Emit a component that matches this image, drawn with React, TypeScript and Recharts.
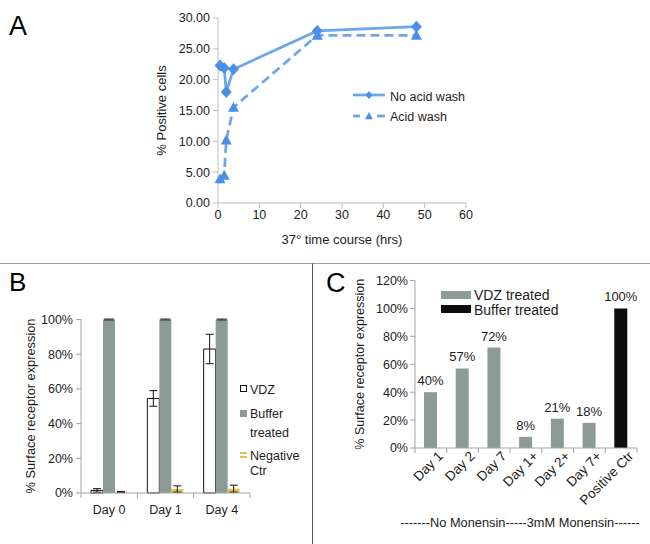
import React from 'react';
import { LineChart, Line, BarChart, Bar, XAxis, YAxis, ErrorBar, LabelList } from 'recharts';

const FONT = '"Liberation Sans", Arial, Helvetica, sans-serif';
const INK = '#1c1c1c';
const LINE_BLUE = '#6CA7EA';
const MARK_BLUE = '#4A90E6';
const AXIS_A = '#BDBDBD';
const AXIS_BC = '#A3A3A3';
const GRAY_BAR = '#8D9B98';
const GOLD = '#E0C255';

// panel A: % positive cells over the 37° time course
const hours = [0.5, 1.5, 2, 3.75, 24, 48];
const noAcidWash = [22.3, 21.9, 18.0, 21.7, 27.9, 28.6];
const acidWash = [3.9, 4.5, 10.2, 15.5, 27.2, 27.2];
const hourTicks = [0, 10, 20, 30, 40, 50, 60];
const positiveTicks = [0, 5, 10, 15, 20, 25, 30];

// panel B: surface receptor expression, mean and error
const daysB = ['Day 0', 'Day 1', 'Day 4'];
const vdz = [1.5, 54.5, 83];
const vdzErr = [1, 4.5, 8.5];
const buffer = [100, 100, 100];
const bufferErr = [0.3, 0.3, 0.3];
const negative = [0.6, 2.3, 2.5];
const negativeErr = [0.3, 1.8, 2];
const pctTicksB = [0, 20, 40, 60, 80, 100];

// panel C: with / without monensin
const daysC = ['Day 1', 'Day 2', 'Day 7', 'Day 1+', 'Day 2+', 'Day 7+', 'Positive Ctr'];
const vdzTreated = [40, 57, 72, 8, 21, 18, null];
const bufferTreated = [null, null, null, null, null, null, 100];
const pctTicksC = [0, 20, 40, 60, 80, 100, 120];

const dataA = hours.map((h, i) => ({ h, noAcid: noAcidWash[i], acid: acidWash[i] }));
const dataB = daysB.map((day, i) => ({
  day,
  vdz: vdz[i],
  vdzErr: vdzErr[i],
  buffer: buffer[i],
  bufferErr: bufferErr[i],
  negative: negative[i],
  negativeErr: negativeErr[i],
}));
const dataC = daysC.map((day, i) => ({ day, vdz: vdzTreated[i], buffer: bufferTreated[i] }));

const diamondPath = (cx: number, cy: number, w: number, h: number) =>
  `M${cx},${cy - h}L${cx + w},${cy}L${cx},${cy + h}L${cx - w},${cy}Z`;
const trianglePath = (cx: number, cy: number, s: number) =>
  `M${cx},${cy - s}L${cx + s},${cy + s * 0.8}L${cx - s},${cy + s * 0.8}Z`;

const DiamondDot = (p: any) =>
  p.cx == null ? <g key={`d${p.index}`} /> : <path key={`d${p.index}`} d={diamondPath(p.cx, p.cy, 5.5, 6)} fill={MARK_BLUE} />;
const TriangleDot = (p: any) =>
  p.cx == null ? <g key={`t${p.index}`} /> : <path key={`t${p.index}`} d={trianglePath(p.cx, p.cy, 5.5)} fill={MARK_BLUE} />;

// Excel-style category axis: tick marks sit between categories
const BandTick = (props: any) => {
  const { x, y, payload, index, band, count, rotate } = props;
  const tickMark = (tx: number) => <line x1={tx} x2={tx} y1={y} y2={y + 5} stroke={AXIS_BC} />;
  return (
    <g>
      {tickMark(x - band / 2)}
      {index === count - 1 && tickMark(x + band / 2)}
      {rotate ? (
        <text
          x={x + 13}
          y={y + 9}
          textAnchor="end"
          fontSize={13.5}
          fill={INK}
          transform={`rotate(-45, ${x + 13}, ${y + 9})`}
        >
          {payload.value}
        </text>
      ) : (
        <text x={x} y={y + 21} textAnchor="middle" fontSize={12.5} fill={INK}>
          {payload.value}
        </text>
      )}
    </g>
  );
};

function PanelA() {
  return (
    <LineChart width={650} height={262} data={dataA} margin={{ top: 18, right: 184, left: 158, bottom: 0 }}>
      <XAxis
        dataKey="h"
        type="number"
        domain={[0, 60]}
        ticks={hourTicks}
        height={59}
        stroke={AXIS_A}
        tickSize={5}
        tick={{ fill: INK, fontSize: 12.5 }}
        label={{ value: '37° time course (hrs)', position: 'insideBottom', offset: 18, fill: INK, fontSize: 13 }}
      />
      <YAxis
        type="number"
        domain={[0, 30]}
        ticks={positiveTicks}
        width={60}
        stroke={AXIS_A}
        tickSize={5}
        tickMargin={3}
        tick={{ fill: INK, fontSize: 12.5 }}
        tickFormatter={(v: number) => v.toFixed(2)}
        label={{ value: '% Positive cells', angle: -90, position: 'insideLeft', offset: 3, fill: INK, fontSize: 13, style: { textAnchor: 'middle' } }}
      />
      <Line
        type="linear"
        dataKey="noAcid"
        name="No acid wash"
        stroke={LINE_BLUE}
        strokeWidth={2.75}
        dot={DiamondDot}
        activeDot={false}
        isAnimationActive={false}
      />
      <Line
        type="linear"
        dataKey="acid"
        name="Acid wash"
        stroke={LINE_BLUE}
        strokeWidth={2.75}
        strokeDasharray="9 5"
        dot={TriangleDot}
        activeDot={false}
        isAnimationActive={false}
      />
    </LineChart>
  );
}

function PanelB() {
  const band = 169 / daysB.length;
  return (
    <BarChart width={312} height={281} data={dataB} margin={{ top: 56, right: 62, left: 21, bottom: 0 }} barSize={12} barGap={0}>
      <XAxis
        dataKey="day"
        height={51}
        stroke={AXIS_BC}
        tickLine={false}
        tickSize={0}
        tickMargin={0}
        interval={0}
        tick={(p: any) => <BandTick {...p} band={band} count={daysB.length} />}
      />
      <YAxis
        domain={[0, 100]}
        ticks={pctTicksB}
        width={60}
        stroke={AXIS_BC}
        tickSize={5}
        tickMargin={3}
        tick={{ fill: INK, fontSize: 12.5 }}
        tickFormatter={(v: number) => `${v}%`}
        label={{ value: '% Surface receptor expression', angle: -90, position: 'insideLeft', offset: 9, fill: INK, fontSize: 12.8, style: { textAnchor: 'middle' } }}
      />
      <Bar dataKey="vdz" name="VDZ" fill="#ffffff" stroke="#111" strokeWidth={1} isAnimationActive={false}>
        <ErrorBar dataKey="vdzErr" width={4} stroke="#111" strokeWidth={1} />
      </Bar>
      <Bar dataKey="buffer" name="Buffer treated" fill={GRAY_BAR} isAnimationActive={false}>
        <ErrorBar dataKey="bufferErr" width={5} stroke="#333" strokeWidth={1} />
      </Bar>
      <Bar dataKey="negative" name="Negative Ctr" fill={GOLD} isAnimationActive={false}>
        <ErrorBar dataKey="negativeErr" width={4} stroke="#111" strokeWidth={1} />
      </Bar>
    </BarChart>
  );
}

const pctLabel = (v: any) => (v == null ? '' : `${v}%`);

function PanelC() {
  const band = 222 / daysC.length;
  return (
    <BarChart width={337} height={281} data={dataC} margin={{ top: 17.5, right: 13, left: 40, bottom: 0 }} barSize={13}>
      <XAxis
        dataKey="day"
        height={96}
        stroke={AXIS_BC}
        tickLine={false}
        tickSize={0}
        tickMargin={0}
        interval={0}
        tick={(p: any) => <BandTick {...p} band={band} count={daysC.length} rotate />}
      />
      <YAxis
        domain={[0, 120]}
        ticks={pctTicksC}
        width={62}
        stroke={AXIS_BC}
        tickSize={5}
        tickMargin={2}
        tick={{ fill: INK, fontSize: 12.5 }}
        tickFormatter={(v: number) => `${v}%`}
        label={{ value: '% Surface receptor expression', angle: -90, position: 'insideLeft', offset: 7, fill: INK, fontSize: 12.5, style: { textAnchor: 'middle' } }}
      />
      <Bar dataKey="vdz" name="VDZ treated" stackId="c" fill={GRAY_BAR} isAnimationActive={false}>
        <LabelList dataKey="vdz" position="top" offset={7} fontSize={13} fill={INK} formatter={pctLabel} />
      </Bar>
      <Bar dataKey="buffer" name="Buffer treated" stackId="c" fill="#0d0d0d" isAnimationActive={false}>
        <LabelList dataKey="buffer" position="top" offset={7} fontSize={13} fill={INK} formatter={pctLabel} />
      </Bar>
    </BarChart>
  );
}

function Overlay() {
  return (
    <svg width={650} height={544} style={{ position: 'absolute', left: 0, top: 0, pointerEvents: 'none' }} fontFamily={FONT}>
      <line x1={0} y1={263.5} x2={650} y2={263.5} stroke="#9E9E9E" />
      <line x1={312.5} y1={263.5} x2={312.5} y2={544} stroke="#555" />

      <text x={9} y={35} fontSize={27} fill="#000">A</text>
      <text x={9} y={291} fontSize={26} fill="#000">B</text>
      <text x={326} y={292} fontSize={27} fill="#000">C</text>

      {/* legend A */}
      <line x1={353} x2={385} y1={95} y2={95} stroke={LINE_BLUE} strokeWidth={2.75} />
      <path d={diamondPath(369, 95, 3.5, 4)} fill={MARK_BLUE} />
      <text x={390} y={100.5} fontSize={12.5} fill={INK}>No acid wash</text>
      <line x1={353} x2={360} y1={116} y2={116} stroke={LINE_BLUE} strokeWidth={2.75} />
      <line x1={377} x2={385} y1={116} y2={116} stroke={LINE_BLUE} strokeWidth={2.75} />
      <path d={trianglePath(369, 116, 4)} fill={MARK_BLUE} />
      <text x={390} y={120.5} fontSize={12.5} fill={INK}>Acid wash</text>

      {/* legend B */}
      <rect x={240.5} y={385.5} width={6} height={6} fill="#fff" stroke="#111" />
      <text x={250} y={393.5} fontSize={12.5} fill={INK}>VDZ</text>
      <rect x={240} y={410} width={7} height={7} fill={GRAY_BAR} />
      <text x={250} y={417.5} fontSize={12.5} fill={INK}>Buffer</text>
      <text x={250} y={437} fontSize={12.5} fill={INK}>treated</text>
      <rect x={240} y={452} width={7} height={2} fill={GOLD} />
      <rect x={240} y={456} width={7} height={2} fill={GOLD} />
      <text x={250} y={460} fontSize={12.5} fill={INK}>Negative</text>
      <text x={250} y={475} fontSize={12.5} fill={INK}>Ctr</text>

      {/* legend C */}
      <rect x={441} y={291} width={30} height={8} fill={GRAY_BAR} />
      <text x={474} y={300} fontSize={14} fill={INK}>VDZ treated</text>
      <rect x={441} y={305} width={30} height={8} fill="#0d0d0d" />
      <text x={474} y={315} fontSize={14} fill={INK}>Buffer treated</text>

      <text x={520} y={527} textAnchor="middle" fontSize={12.8} fill={INK}>
        -------No Monensin-----3mM Monensin------
      </text>
    </svg>
  );
}

export default function App() {
  return (
    <div style={{ position: 'absolute', left: 0, top: 0, width: 650, height: 544, background: '#fff', fontFamily: FONT, overflow: 'hidden' }}>
      <div style={{ position: 'absolute', left: 0, top: 0 }}>
        <PanelA />
      </div>
      <div style={{ position: 'absolute', left: 0, top: 263 }}>
        <PanelB />
      </div>
      <div style={{ position: 'absolute', left: 313, top: 263 }}>
        <PanelC />
      </div>
      <Overlay />
    </div>
  );
}
